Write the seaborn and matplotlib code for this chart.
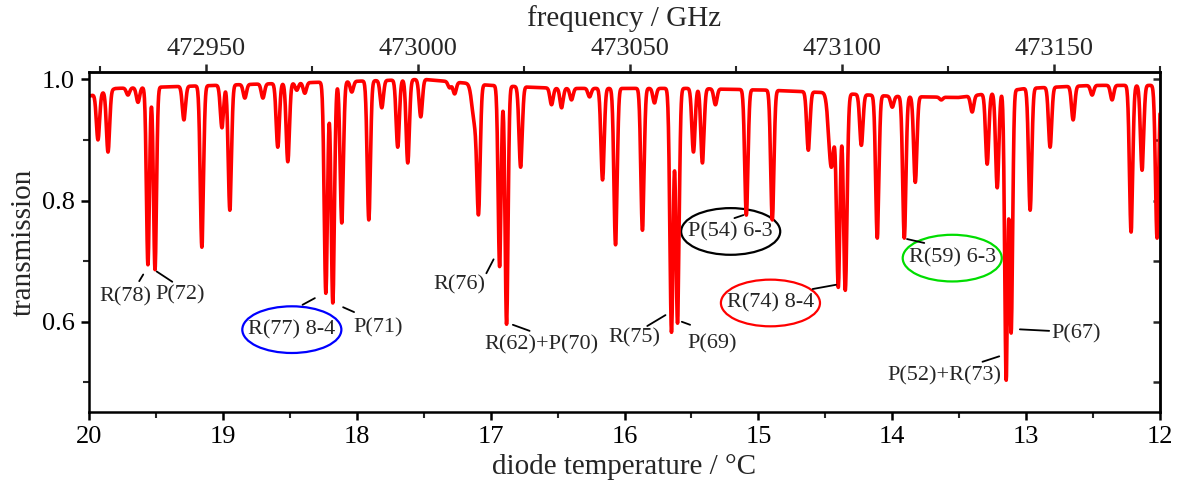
import numpy as np
import pandas as pd
import seaborn as sns
import matplotlib.pyplot as plt
from matplotlib.patches import Ellipse
from matplotlib.ticker import MultipleLocator, FixedLocator, FormatStrFormatter

# absorption lines: centre (diode temperature / degC),
# minimum transmission and gaussian width (degC)
line_temp = [19.933, 19.858, 19.709, 19.634, 19.560, 19.507, 19.291, 19.157, 19.007, 18.948,
             18.836, 18.701, 18.590, 18.515, 18.448, 18.388, 18.231, 18.179, 18.112, 18.037,
             17.910, 17.813, 17.694, 17.619, 17.522, 17.306, 17.269, 17.119, 17.090, 16.933,
             16.881, 16.776, 16.545, 16.470, 16.396, 16.261, 16.164, 16.067, 15.866, 15.776,
             15.649, 15.604, 15.485, 15.418, 15.321, 15.090, 14.896, 14.627, 14.455, 14.403,
             14.351, 14.231, 14.112, 14.000, 13.910, 13.828, 13.634, 13.403, 13.291, 13.216,
             13.149, 13.112, 12.970, 12.821, 12.649, 12.507, 12.358, 12.216, 12.134, 12.022]
line_min = [0.900, 0.880, 0.974, 0.962, 0.694, 0.686, 0.933, 0.723, 0.920, 0.784,
            0.969, 0.969, 0.888, 0.864, 0.982, 0.977, 0.647, 0.631, 0.763, 0.979,
            0.768, 0.953, 0.888, 0.862, 0.938, 0.986, 0.976, 0.930, 0.799, 0.691,
            0.596, 0.855, 0.958, 0.953, 0.966, 0.971, 0.834, 0.727, 0.751, 0.961,
            0.583, 0.598, 0.880, 0.862, 0.958, 0.776, 0.768, 0.883, 0.855, 0.661,
            0.652, 0.891, 0.738, 0.954, 0.738, 0.830, 0.966, 0.946, 0.860, 0.821,
            0.505, 0.583, 0.784, 0.888, 0.933, 0.974, 0.966, 0.748, 0.850, 0.738]
line_width = [0.012, 0.012, 0.012, 0.012, 0.011, 0.011, 0.012, 0.012, 0.012, 0.012,
              0.012, 0.012, 0.012, 0.012, 0.012, 0.012, 0.012, 0.012, 0.012, 0.012,
              0.012, 0.012, 0.012, 0.012, 0.012, 0.012, 0.012, 0.020, 0.012, 0.011,
              0.011, 0.012, 0.012, 0.012, 0.012, 0.012, 0.012, 0.012, 0.012, 0.012,
              0.012, 0.012, 0.012, 0.012, 0.012, 0.012, 0.012, 0.012, 0.020, 0.013,
              0.013, 0.012, 0.012, 0.012, 0.012, 0.012, 0.012, 0.012, 0.012, 0.012,
              0.011, 0.011, 0.012, 0.012, 0.012, 0.012, 0.012, 0.012, 0.012, 0.012]

# transmission level between the lines
base_temp = [12.0, 12.5, 13.0, 13.5, 14.0, 14.5, 14.9, 15.5, 16.5, 17.0, 17.5, 18.3, 19.8, 20.0]
base_level = [0.99, 0.99, 0.985, 0.97, 0.972, 0.978, 0.982, 0.985, 0.985, 0.99, 1.0, 0.995, 0.985, 0.972]

# annotations
ann_text = ['R(78)', 'P(72)', 'P(71)', 'R(76)', 'R(62)+P(70)', 'R(75)', 'P(69)',
            'P(52)+R(73)', 'P(67)']
ann_xy = [(19.731, 0.641), (19.321, 0.644), (17.843, 0.590), (17.231, 0.661), (16.622, 0.562),
          (15.925, 0.573), (15.343, 0.563), (13.612, 0.510), (12.629, 0.580)]
ann_seg = [((19.595, 0.678), (19.625, 0.667)), ((19.495, 0.683), (19.378, 0.666)),
           ((18.102, 0.624), (18.020, 0.616)), ((17.032, 0.680), (16.978, 0.703)),
           ((16.834, 0.595), (16.709, 0.585)), ((15.830, 0.593), (15.694, 0.611)),
           ((15.572, 0.600), (15.510, 0.595)), ((13.326, 0.534), (13.201, 0.543)),
           ((13.047, 0.5875), (12.828, 0.585))]

circ_text = ['R(77) 8-4', 'P(54) 6-3', 'R(74) 8-4', 'R(59) 6-3']
circ_xy = [(18.485, 0.587), (15.207, 0.749), (14.910, 0.631), (13.552, 0.705)]
circ_color = ['#0000ff', 'black', '#ff0000', '#00dd00']
circ_seg = [((18.405, 0.628), (18.313, 0.639)), ((15.179, 0.771), (15.112, 0.776)),
            ((14.595, 0.654), (14.421, 0.661)), ((13.890, 0.7365), (13.761, 0.730))]

freq_ticks = [472950, 473000, 473050, 473100, 473150]
freq_minor = [472925, 472975, 473025, 473075, 473125, 473175]

# build the trace
temp = np.linspace(12.0, 20.0, 8001)
base = np.interp(temp, base_temp, base_level)
trans = base.copy()
for t0, tmin, w in zip(line_temp, line_min, line_width):
    depth = np.interp(t0, base_temp, base_level) - tmin
    trans -= depth * np.exp(-0.5 * ((temp - t0) / w) ** 2)
df = pd.DataFrame({'temp': temp, 'trans': trans})


def t2f(t):
    return 473000 + (17.545 - t) * 31.57


def f2t(f):
    return 17.545 - (f - 473000) / 31.57


sns.set_theme(style='ticks')
plt.rcParams['font.family'] = ['Liberation Serif', 'DejaVu Serif']

fig = plt.figure(figsize=(11.79, 4.9), dpi=100)
ax = fig.add_axes([0.0755, 0.159, 0.9084, 0.694])

sns.lineplot(data=df, x='temp', y='trans', ax=ax, color='#ff0000', linewidth=2.6,
             estimator=None, sort=False)

ax.set_xlim(20, 12)
ax.set_ylim(0.451, 1.012)
ax.xaxis.set_major_locator(MultipleLocator(1))
ax.xaxis.set_minor_locator(MultipleLocator(0.5))
ax.yaxis.set_major_locator(MultipleLocator(0.2))
ax.yaxis.set_minor_locator(MultipleLocator(0.1))
ax.yaxis.set_major_formatter(FormatStrFormatter('%.1f'))
ax.tick_params(axis='both', which='major', direction='out', length=6, width=1.8,
               labelsize=19, colors='black', pad=4)
ax.tick_params(axis='both', which='minor', direction='out', length=4, width=1.5)
ax.set_xlabel('diode temperature / °C', fontsize=21, labelpad=4)
ax.set_ylabel('transmission', fontsize=21, labelpad=4)
for s in ax.spines.values():
    s.set_linewidth(1.8)
    s.set_color('black')

top = ax.secondary_xaxis('top', functions=(t2f, f2t))
top.xaxis.set_major_locator(FixedLocator(freq_ticks))
top.xaxis.set_minor_locator(FixedLocator(freq_minor))
top.xaxis.set_major_formatter(FormatStrFormatter('%d'))
top.tick_params(which='major', direction='out', length=6, width=1.8, labelsize=19, pad=3)
top.tick_params(which='minor', direction='out', length=4, width=1.5)
top.set_xlabel('frequency / GHz', fontsize=21, labelpad=8)
top.spines['top'].set_linewidth(1.8)

right = ax.secondary_yaxis('right')
right.yaxis.set_major_locator(MultipleLocator(0.1))
right.tick_params(which='major', direction='in', length=5, width=1.8, labelright=False)
right.spines['right'].set_linewidth(1.8)

for txt, xy, seg in zip(ann_text, ann_xy, ann_seg):
    ax.text(xy[0], xy[1], txt, fontsize=16, ha='center', va='center')
    ax.plot([seg[0][0], seg[1][0]], [seg[0][1], seg[1][1]], color='black', lw=1.3)

for txt, xy, col, seg in zip(circ_text, circ_xy, circ_color, circ_seg):
    ax.text(xy[0], xy[1], txt, fontsize=16, ha='center', va='center')
    ax.add_patch(Ellipse(xy, 0.74, 0.077, fill=False, edgecolor=col, lw=1.6))
    ax.plot([seg[0][0], seg[1][0]], [seg[0][1], seg[1][1]], color='black', lw=1.3)

fig.savefig('out.png', dpi=100)
